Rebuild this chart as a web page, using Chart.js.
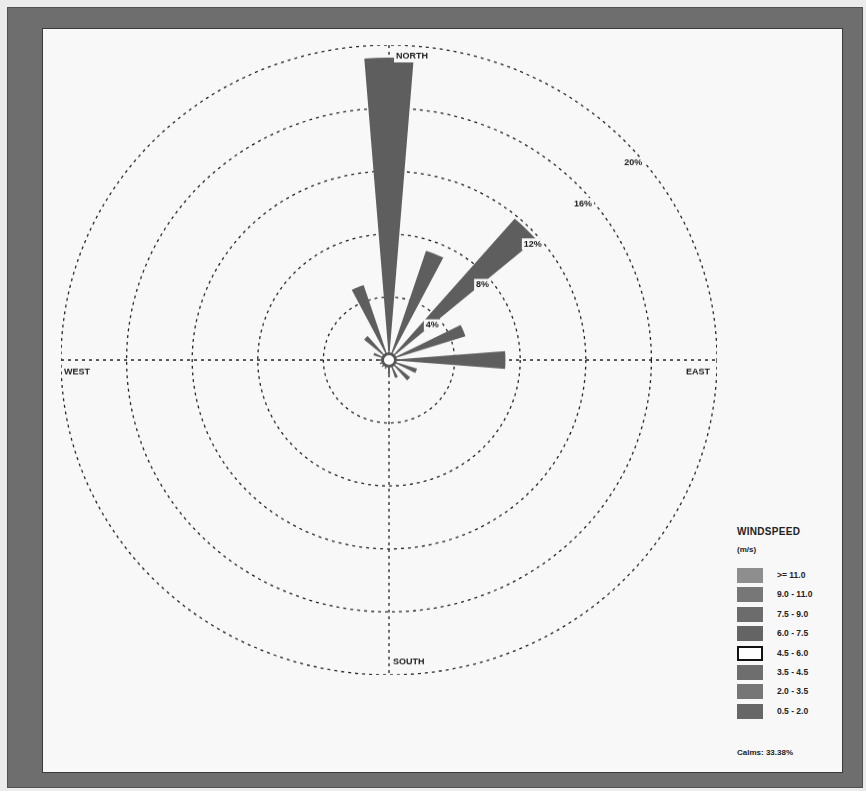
<!DOCTYPE html>
<html>
<head>
<meta charset="utf-8">
<script src="https://cdn.jsdelivr.net/npm/chart.js@4.4.0/dist/chart.umd.min.js"></script>
<style>
  html, body { margin: 0; padding: 0; }
  body { width: 866px; height: 791px; background: #ebebeb; position: relative; overflow: hidden;
         font-family: "Liberation Sans", Arial, sans-serif; }
  #frame { position: absolute; left: 7px; top: 7px; width: 856px; height: 781px; background: #6e6e6e;
           box-sizing: border-box; border: 1px solid #505050; }
  #panel { position: absolute; left: 42px; top: 28px; width: 801px; height: 745px; background: #f8f8f8;
           box-sizing: border-box; border: 1px solid #3a3a3a; }
  #wrap { position: absolute; left: 61px; top: 32px; width: 656px; height: 656px;
          transform: scaleY(0.96); transform-origin: 50% 50%; }
  #legend { position: absolute; left: 737px; top: 526px; color: #222; }
  #legend .title { font-size: 10px; font-weight: bold; letter-spacing: 0.3px; }
  #legend .unit { font-size: 8px; font-weight: bold; margin-top: 8px; }
  #legend .row { position: absolute; left: 0; height: 15px; width: 100px; }
  #legend .sw { position: absolute; left: 0; top: 0; width: 26px; height: 15px; box-sizing: border-box; }
  #legend .lb { position: absolute; left: 40px; top: 2px; font-size: 8.5px; font-weight: bold; white-space: nowrap; }
  #legend .calm { position: absolute; left: 0; top: 222px; font-size: 8px; font-weight: bold; white-space: nowrap; }
</style>
</head>
<body>
<div id="frame"></div>
<div id="panel"></div>
<div id="wrap"><canvas id="rose" width="656" height="656"></canvas></div>
<div id="legend"></div>
<script>
// data
var directions = ['N', 'NNE', 'NE', 'ENE', 'E', 'ESE', 'SE', 'SSE',
                  'S', 'SSW', 'SW', 'WSW', 'W', 'WNW', 'NW', 'NNW'];
var frequencies = [19.2, 7.3, 11.8, 4.9, 7.1, 1.8, 1.7, 1.2,
                   0.9, 0.6, 0.6, 0.6, 0.7, 1.0, 2.0, 5.0];
var ringValues = [4, 8, 12, 16, 20];
var speedClasses = ['>= 11.0', '9.0 - 11.0', '7.5 - 9.0', '6.0 - 7.5',
                    '4.5 - 6.0', '3.5 - 4.5', '2.0 - 3.5', '0.5 - 2.0'];
var speedColors = ['#8e8e8e', '#777777', '#6c6c6c', '#646464',
                   '#ffffff', '#6e6e6e', '#767676', '#676767'];
var calmPercent = '33.38%';

// each direction gets a petal slot and an empty gap slot
var petalAngle = 9, sectorAngle = 22.5;
var slotLabels = [], slotValues = [];
directions.forEach(function (d, i) {
    slotLabels.push(d);
    slotValues.push(frequencies[i]);
    slotLabels.push('');
    slotValues.push(0);
});

// legend
var legend = document.getElementById('legend');
var html = '<div class="title">WINDSPEED</div><div class="unit">(m/s)</div>';
speedClasses.forEach(function (s, i) {
    var border = speedColors[i] === '#ffffff' ? 'border:2px solid #111;' : '';
    html += '<div class="row" style="top:' + (42 + i * 19.4) + 'px">' +
        '<div class="sw" style="background:' + speedColors[i] + ';' + border + '"></div>' +
        '<div class="lb">' + s + '</div></div>';
});
html += '<div class="calm">Calms: ' + calmPercent + '</div>';
legend.innerHTML = html;

var dashed = [3, 4];

var overlay = {
    id: 'overlay',
    beforeDatasetsDraw: function (chart) {
        var s = chart.scales.r, ctx = chart.ctx;
        var cx = s.xCenter, cy = s.yCenter, R = s.drawingArea;
        ctx.save();
        ctx.strokeStyle = '#222';
        ctx.lineWidth = 1.3;
        ctx.setLineDash(dashed);
        ctx.beginPath();
        ctx.moveTo(cx - R, cy); ctx.lineTo(cx + R, cy);
        ctx.moveTo(cx, cy - R); ctx.lineTo(cx, cy + R);
        ctx.stroke();
        ctx.restore();
    },
    afterDatasetsDraw: function (chart) {
        var s = chart.scales.r, ctx = chart.ctx;
        var cx = s.xCenter, cy = s.yCenter, R = s.drawingArea;

        function label(text, x, y, align) {
            ctx.font = 'bold 9px "Liberation Sans", Arial, sans-serif';
            var w = ctx.measureText(text).width;
            var left = align === 'right' ? x - w : (align === 'center' ? x - w / 2 : x);
            ctx.fillStyle = '#f8f8f8';
            ctx.fillRect(left - 2, y - 6, w + 4, 12);
            ctx.fillStyle = '#1a1a1a';
            ctx.textBaseline = 'middle';
            ctx.textAlign = 'left';
            ctx.fillText(text, left, y);
        }

        ctx.save();
        // calm circle
        ctx.beginPath();
        ctx.arc(cx, cy, 6.5, 0, Math.PI * 2);
        ctx.fillStyle = '#ffffff';
        ctx.fill();
        ctx.lineWidth = 3;
        ctx.strokeStyle = '#555';
        ctx.stroke();

        // compass labels
        label('NORTH', cx + 7, cy - R + 12, 'left');
        label('SOUTH', cx + 4, cy + R - 13, 'left');
        label('WEST', cx - R + 3, cy + 13, 'left');
        label('EAST', cx + R - 7, cy + 13, 'right');

        // ring labels along a diagonal just inside each ring
        var a = (50 - 90) * Math.PI / 180;
        ringValues.forEach(function (v) {
            var d = s.getDistanceFromCenterForValue(v) - 9;
            label(v + '%', cx + d * Math.cos(a), cy + d * Math.sin(a), 'center');
        });
        ctx.restore();
    }
};

new Chart(document.getElementById('rose'), {
    type: 'polarArea',
    data: {
        labels: slotLabels,
        datasets: [{
            label: 'Frequency (%)',
            data: slotValues,
            backgroundColor: '#5e5e5e',
            borderWidth: 0,
            angle: function (c) {
                return c.dataIndex % 2 === 0 ? petalAngle : sectorAngle - petalAngle;
            }
        }]
    },
    options: {
        responsive: false,
        animation: false,
        layout: { padding: 0 },
        plugins: { legend: { display: false }, tooltip: { enabled: false } },
        scales: {
            r: {
                min: 0,
                max: 20,
                startAngle: -petalAngle / 2,
                ticks: { display: false, stepSize: 4 },
                grid: { color: '#222', lineWidth: 1.3, circular: true },
                border: { dash: dashed },
                angleLines: { display: false },
                pointLabels: { display: false }
            }
        }
    },
    plugins: [overlay]
});
</script>
</body>
</html>
